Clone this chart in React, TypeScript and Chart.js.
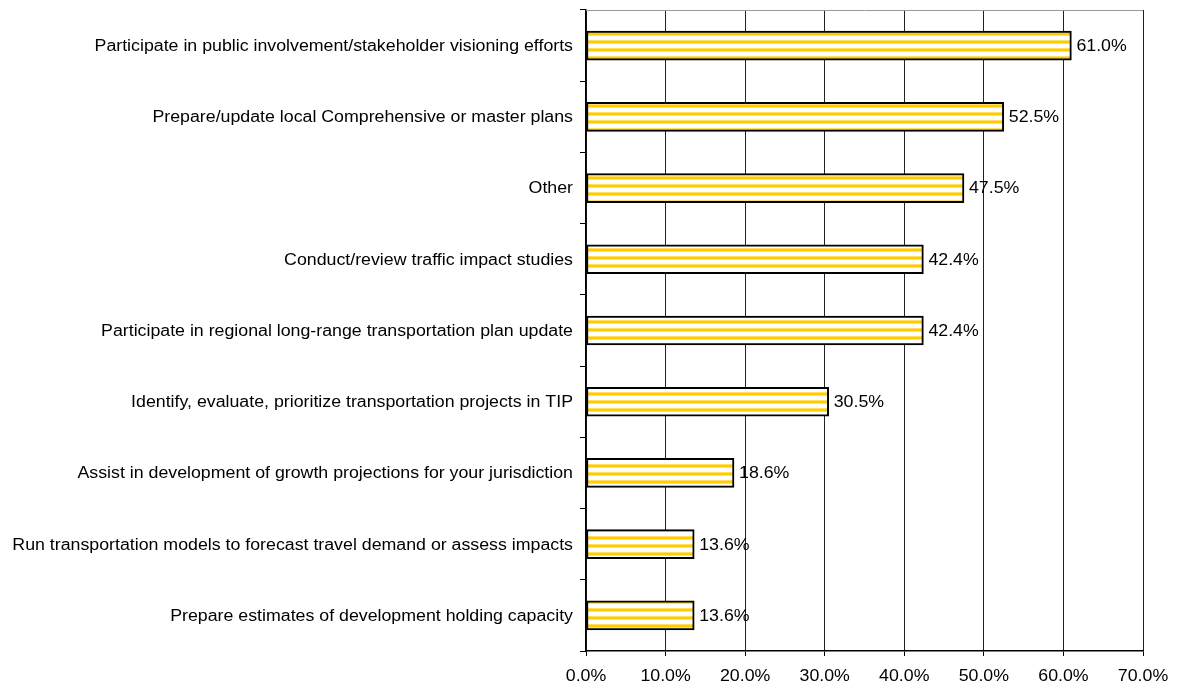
import React, { useEffect, useRef } from "react";
import { Chart, registerables } from "chart.js";

Chart.register(...registerables);

const categories = [
  "Participate in public involvement/stakeholder visioning efforts",
  "Prepare/update local Comprehensive or master plans",
  "Other",
  "Conduct/review traffic impact studies",
  "Participate in regional long-range transportation plan update",
  "Identify, evaluate, prioritize transportation projects in TIP",
  "Assist in development of growth projections for your jurisdiction",
  "Run transportation models to forecast travel demand or assess impacts",
  "Prepare estimates of development holding capacity",
];
const values = [61.0, 52.5, 47.5, 42.4, 42.4, 30.5, 18.6, 13.6, 13.6];
const xTickValues = [0, 10, 20, 30, 40, 50, 60, 70];

const FONT = "16px 'Liberation Sans', Arial, sans-serif";
const STRETCH = 1.11;

function makePattern(): CanvasPattern | string {
  const c = document.createElement("canvas");
  c.width = 8;
  c.height = 8;
  const g = c.getContext("2d");
  if (!g) return "#FFCC00";
  g.fillStyle = "#ffffff";
  g.fillRect(0, 0, 8, 8);
  g.fillStyle = "#FFE060";
  g.fillRect(0, 0, 8, 4);
  g.fillStyle = "#FFCC00";
  g.fillRect(0, 1, 8, 2);
  const p = g.createPattern(c, "repeat");
  return p || "#FFCC00";
}

function drawStretched(ctx: CanvasRenderingContext2D, text: string, x: number, y: number, align: "left" | "right" | "center") {
  const w = ctx.measureText(text).width * STRETCH;
  let left = x;
  if (align === "right") left = x - w;
  if (align === "center") left = x - w / 2;
  ctx.save();
  ctx.translate(left, y);
  ctx.scale(STRETCH, 1);
  ctx.textAlign = "left";
  ctx.fillText(text, 0, 0);
  ctx.restore();
}

const labelPlugin = {
  id: "customLabels",
  afterDraw(chart: any) {
    const ctx = chart.ctx as CanvasRenderingContext2D;
    const meta = chart.getDatasetMeta(0);
    const area = chart.chartArea;
    const ys = chart.scales.y;
    const xs = chart.scales.x;
    ctx.save();
    ctx.strokeStyle = "#999";
    ctx.lineWidth = 1;
    ctx.beginPath();
    ctx.moveTo(area.left, Math.round(area.top) + 0.5);
    ctx.lineTo(area.right, Math.round(area.top) + 0.5);
    ctx.stroke();

    ctx.font = FONT;
    ctx.fillStyle = "#000";
    ctx.textBaseline = "middle";
    meta.data.forEach((el: any, i: number) => {
      drawStretched(ctx, values[i].toFixed(1) + "%", el.x + 5, el.y + 1, "left");
    });
    categories.forEach((c, i) => {
      drawStretched(ctx, c, 573, ys.getPixelForValue(i) + 1, "right");
    });
    xTickValues.forEach((v) => {
      drawStretched(ctx, v.toFixed(1) + "%", xs.getPixelForValue(v), 677, "center");
    });
    ctx.restore();
  },
};

export default function App() {
  const ref = useRef<HTMLCanvasElement>(null);
  useEffect(() => {
    document.body.style.margin = "0";
    const canvas = ref.current!;
    const chart = new Chart(canvas, {
      type: "bar",
      data: {
        labels: categories,
        datasets: [
          {
            data: values,
            backgroundColor: makePattern() as any,
            borderColor: "#000",
            borderWidth: 2,
            borderSkipped: false,
            barThickness: 29,
          },
        ],
      },
      options: {
        indexAxis: "y",
        animation: false,
        responsive: false,
        maintainAspectRatio: false,
        layout: { padding: { left: 0, right: 34, top: 10, bottom: 0 } },
        plugins: { legend: { display: false }, tooltip: { enabled: false } },
        scales: {
          y: {
            offset: true,
            grid: {
              offset: true,
              drawOnChartArea: false,
              drawTicks: true,
              tickLength: 6,
              color: "#000",
            },
            border: { display: true, color: "#000", width: 1.5 },
            ticks: {
              color: "rgba(0,0,0,0)",
              padding: 0,
              font: { family: "'Liberation Sans', Arial, sans-serif", size: 1 },
            },
            afterFit: (s: any) => {
              s.width = 586;
              s.paddingTop = 0;
              s.paddingBottom = 0;
            },
          },
          x: {
            min: 0,
            max: 70,
            grid: {
              color: "#222",
              lineWidth: 1,
              tickLength: 5,
              tickColor: "#000",
            },
            border: { display: true, color: "#000", width: 1.5 },
            ticks: {
              stepSize: 10,
              color: "rgba(0,0,0,0)",
              padding: 6,
              callback: (v: any) => Number(v).toFixed(1) + "%",
              font: { family: "'Liberation Sans', Arial, sans-serif", size: 15 },
            },
            afterFit: (s: any) => {
              s.height = 34;
              s.paddingLeft = 0;
              s.paddingRight = 0;
            },
          },
        },
      },
      plugins: [labelPlugin],
    });
    return () => chart.destroy();
  }, []);
  return (
    <div style={{ width: 1177, height: 685 }}>
      <canvas ref={ref} width={1177} height={685} style={{ display: "block" }} />
    </div>
  );
}
